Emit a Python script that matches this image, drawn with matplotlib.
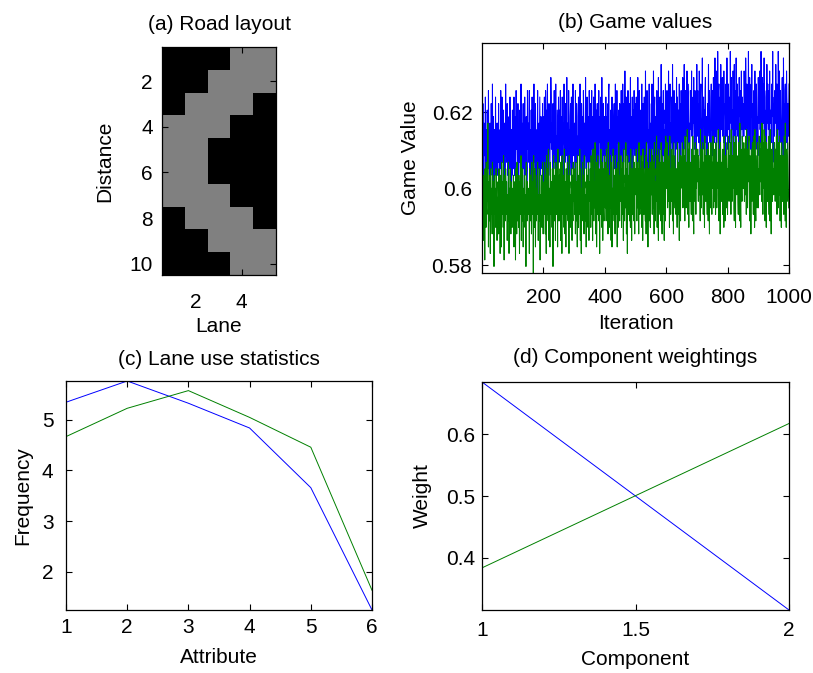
import numpy as np
import matplotlib
matplotlib.use("Agg")
import matplotlib.pyplot as plt
from matplotlib.colors import ListedColormap
from matplotlib.ticker import FuncFormatter

plt.rcParams['font.family'] = ['Liberation Sans', 'DejaVu Sans']
plt.rcParams['font.size'] = 15

# ---------------- data ----------------
# (a) road layout: 1 = road (gray), 0 = off-road (black); rows = distance 1..10, cols = lane 1..5
road = [
    [0, 0, 0, 1, 1],
    [0, 0, 1, 1, 1],
    [0, 1, 1, 1, 0],
    [1, 1, 1, 0, 0],
    [1, 1, 0, 0, 0],
    [1, 1, 0, 0, 0],
    [1, 1, 1, 0, 0],
    [0, 1, 1, 1, 0],
    [0, 0, 1, 1, 1],
    [0, 0, 0, 1, 1],
]

# (b) game values per iteration, quantised: each char is a base-36 level,
# value = GV_BASE + level * GV_STEP
GV_BASE = 0.578
GV_STEP = 0.0017
game_blue_levels = (
    "jmgqhkeniljrfkbmhpjigsklhdnjmfqikgthlojcmikfrjhlgn"
    "kfnhqjlcimgskjerhmlipfjnkgdtimhlqjfkbnoigrjlhemkfp"
    "igmkrjfoldhsljnkgqicmjhpkeltjhnfikqgmjbrhlkfoiegsj"
    "jnhlsfkmicpjgrlkemjthnifqkjldmhsgkjnbirlfjomgkhqie"
    "kohrjmdslkipntgkljqmhfokurjlnieqkmhsjogktkljcpmihr"
    "lhpkmsjiongrkefnltkjmhqlpiukgnjdslkmhoqjfrlkgntmij"
    "jnkgslmhqoeklirjpmgtknhdqljokfsmhlnkiujgpmrkhloejs"
    "mkhqjnlsfkoigrlmkdtjnhpkmqiljeskonhglrkjumhfnqkilo"
    "kmirhonjlgqkstemjkhplncrknijmoqgkhtlmjfskonhlpdjqk"
    "lpisknmgtlohqkjvmflrinklesmphqkgnuljomdrlhkpnsjmiq"
    "mjrlongukqlhsmfplknitjmoqldkrnmgvlpjhsnkmelqtojnhm"
    "mqjtlnohvmkprielonjsmqkfumlphrnjmwkognqlsimejpntkl"
    "nkslpmivohmqtfnlkrmjwpnhlsmkoeqnjumlrhopkmtlgnqism"
    "nrkupmojwnlqsgomlvnjtrpknidnsqmovlpkhrnuomjsqlnfpw"
    "olsnqmkvpnirtgnmoxljqrnphmsuklnoejpqnwmlsoknhrtmpi"
    "osluqnpkxolrvhpnmyqkstomjrgwoqmpulnskvpqoimrtnlxpj"
    "pmtoroklyqnsuhpomvrlqwnpjsfxoqmtlprnkuoqsijpvmnrol"
    "oqlvrnpmxsoktgqnoyplrumpjstowhqnmlrsokvpqnjtrmoliu"
    "qnsovmpkyrolugtpnqxmsroklpfwnqtomrsjvqonpkltroyhmq"
    "orlspnwqmktonhyrmpvlqsoknjruomgxpqnlstomkvrpjoqlnt"
)
game_green_levels = (
    "b8dc5fa9e2gbc7ha9dbnc4ea8fb3gc9da6hb8ec1fa9db7gcb5"
    "a9ec6gb8d3fac4hb9ed7ib2fca8gd9eb5ac8hf3db9ga6ecb7d"
    "c8fb4ea9d2gbc6hd8ab7fc3ed9bi5ac8gb4da9fe7bc1hda8eb"
    "b9dc3gea8fb6ha9ec0ibd7gc4fb8da9he5cb8gd2ac9fb7ehc6"
    "cae9hd6fb3ic9ge8jb5dc4hfa9ec7gd1bica8fe5hcb9dg4jc8"
    "dbf8gc5hea3ibd9fc7jb6ec4gda9hc8fb3ide7cb9gd5fa8hcb"
    "c9gb6hd8ea4icf7db9jc5ge3bd8hc9fa6ide8cb4gd9fc7hb5e"
    "dbgc7ie9fb5jdg8ecakd6hf4ce9idb8gd3fc9jeb7hd5gca8ie"
    "eahd8jc9gb6kdf7ecaid5hg4db9jec8fd6ibc9gd4hea7kdb8f"
    "dbie7gd9hc5jef8dbakc6gd3ieb9fd8hc7jdb5gf9eic8hd6ge"
    "ecjd8hfagc6kde9gbaie7hd5jfc9gdb8ie6kc9hd4gfb8jec7h"
    "ecjf9ieahd6kfg8ecblf7idb5jgd9hfc8kea6ifd9he5jgc8lf"
    "fdkeaigbhe7lfd9gcbjf8ie6khdaifc9gec7kfd9hb5jed8ige"
    "fdkgajfbie8lgfahdcmg9jf7kidbhfc9jgd8lfa6igebkf9hdj"
    "gejfbihcgf8mgdajfcki9hfe7lgcbifd9jhe8kfb6igdakfc9h"
    "fdlgaifbjh9kgeachfdmi8jgf6kicbhfe9jgd7lfb8ihdakgc9"
    "geljbihdkg9mhfbigdlja8khg7ljdciehb9kgf8ngc7jhebljd"
    "hdkgbjifcl9mgfajheklb8igh6jgdbkfe9lhd7mgb8ifcakgda"
    "gflhcjgekibnhg9kfdmjc8lhg7kidbjge9lhf8mgd6jiebkhfc"
    "gdkhbjfeli9mhgakfclj8ihg7kjdbigf9lhe8ngc7jgebkhda"
)

# (c) lane use statistics
attribute = [1, 2, 3, 4, 5, 6]
freq_blue = [5.35, 5.77, 5.33, 4.84, 3.66, 1.24]
freq_green = [4.67, 5.23, 5.58, 5.05, 4.46, 1.63]

# (d) component weightings
component = [1, 2]
weight_blue = [0.684, 0.316]
weight_green = [0.384, 0.617]

BLUE = '#0000ff'
GREEN = '#008000'

# ---------------- figure ----------------
W, H = 813, 673
fig = plt.figure(figsize=(W / 100, H / 100), dpi=100)


def px_axes(l, t, r, b):
    return fig.add_axes([l / W, 1 - b / H, (r - l) / W, (b - t) / H])


def style(ax, xpad, ypad):
    ax.tick_params(direction='in', top=True, right=True, length=4, width=0.8,
                   labelsize=15)
    ax.tick_params(axis='x', pad=xpad)
    ax.tick_params(axis='y', pad=ypad)
    for s in ax.spines.values():
        s.set_linewidth(0.9)


gfmt = FuncFormatter(lambda v, p: '%g' % v)

# (a)
ax = px_axes(162, 47, 276, 275)
ax.imshow(np.array(road), cmap=ListedColormap(['black', '#808080']),
          extent=(0.5, 5.5, 10.5, 0.5), aspect='equal', interpolation='nearest',
          vmin=0, vmax=1)
ax.set_xlim(0.5, 5.5)
ax.set_ylim(10.5, 0.5)
ax.set_xticks([2, 4])
ax.set_yticks([2, 4, 6, 8, 10])
ax.set_title('(a) Road layout', fontsize=15, pad=12.5)
ax.set_xlabel('Lane', labelpad=3.5)
ax.set_ylabel('Distance', labelpad=11)
style(ax, 13, 6.5)

# (b)
gb = GV_BASE + GV_STEP * np.array([int(c, 36) for c in game_blue_levels])
gg = GV_BASE + GV_STEP * np.array([int(c, 36) for c in game_green_levels])
ax = px_axes(482, 43, 789, 273)
ax.plot(np.arange(1, len(gb) + 1), gb, color=BLUE, lw=0.75)
ax.plot(np.arange(1, len(gg) + 1), gg, color=GREEN, lw=0.75)
ax.set_xlim(1, 1000)
ax.set_ylim(0.578, 0.638)
ax.set_xticks([200, 400, 600, 800, 1000])
ax.set_yticks([0.58, 0.6, 0.62])
ax.yaxis.set_major_formatter(gfmt)
ax.set_title('(b) Game values', fontsize=15, pad=11)
ax.set_xlabel('Iteration', labelpad=5)
ax.set_ylabel('Game Value', labelpad=8.5)
style(ax, 10.5, 7)

# (c)
ax = px_axes(66, 381, 372, 610)
ax.plot(attribute, freq_blue, color=BLUE, lw=0.7)
ax.plot(attribute, freq_green, color=GREEN, lw=0.7)
ax.set_xlim(1, 6)
ax.set_ylim(min(freq_blue + freq_green), max(freq_blue + freq_green))
ax.set_xticks(attribute)
ax.set_yticks([2, 3, 4, 5])
ax.set_title('(c) Lane use statistics', fontsize=15, pad=11.5)
ax.set_xlabel('Attribute', labelpad=8)
ax.set_ylabel('Frequency', labelpad=7)
style(ax, 6, 9)

# (d)
ax = px_axes(482, 382, 789, 610)
ax.plot(component, weight_blue, color=BLUE, lw=0.7)
ax.plot(component, weight_green, color=GREEN, lw=0.7)
ax.set_xlim(1, 2)
ax.set_ylim(min(weight_blue + weight_green), max(weight_blue + weight_green))
ax.set_xticks([1, 1.5, 2])
ax.set_yticks([0.4, 0.5, 0.6])
ax.xaxis.set_major_formatter(gfmt)
ax.yaxis.set_major_formatter(gfmt)
ax.set_title('(d) Component weightings', fontsize=15, pad=13.5)
ax.set_xlabel('Component', labelpad=7)
ax.set_ylabel('Weight', labelpad=10)
style(ax, 7.8, 5)

fig.savefig('out.png', dpi=100)
